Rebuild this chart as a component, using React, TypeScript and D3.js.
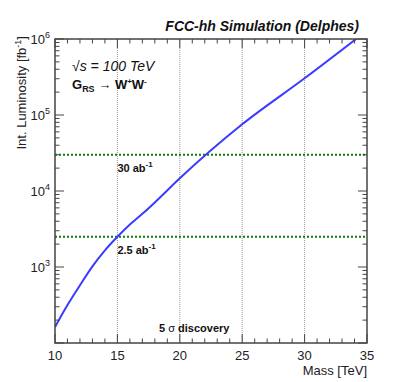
import * as d3 from "d3";

// 数据：质量点与所需积分亮度 (fb^-1)
const masses = [10, 11, 12, 13, 14, 15, 16, 17, 18, 20, 25, 30, 35];
const lumis = [
  162, 316, 575, 1020, 1660, 2500, 3630, 5010, 7080, 14700, 75500, 304000,
  1290000,
];
const xTicks = [10, 15, 20, 25, 30, 35];
const yTicks = [1e3, 1e4, 1e5, 1e6];
const lumiLines = [
  { value: 30000, label: "30 ab", exp: "-1" },
  { value: 2500, label: "2.5 ab", exp: "-1" },
];

const W = 399;
const H = 382;
const margin = { top: 39, right: 32, bottom: 39, left: 55 };
const font = "'Liberation Sans', Arial, Helvetica, sans-serif";

export default function App() {
  const x = d3
    .scaleLinear()
    .domain([10, 35])
    .range([margin.left, W - margin.right]);
  const y = d3
    .scaleLog()
    .domain([100, 1e6])
    .range([H - margin.bottom, margin.top]);

  const x0 = margin.left;
  const x1 = W - margin.right;
  const y0 = H - margin.bottom;
  const y1 = margin.top;

  const line = d3
    .line<number>()
    .x((d, i) => x(masses[i]))
    .y((d) => y(d))
    .curve(d3.curveMonotoneX);

  // 小刻度
  const xMinor = d3.range(10, 35.01, 1);
  const yMinor: number[] = [];
  [100, 1000, 10000, 100000].forEach((p) => {
    for (let k = 2; k <= 9; k++) yMinor.push(p * k);
  });

  const grey = "#444";

  return (
    <svg
      width={W}
      height={H}
      style={{ position: "absolute", left: 0, top: 0, background: "#fff" }}
      fontFamily={font}
    >
      <defs>
        <clipPath id="plot">
          <rect x={x0} y={y1} width={x1 - x0} height={y0 - y1} />
        </clipPath>
      </defs>

      {/* 竖直网格线 */}
      {[15, 20, 25, 30].map((t) => (
        <line
          key={"g" + t}
          x1={x(t)}
          x2={x(t)}
          y1={y0}
          y2={y1}
          stroke="#999"
          strokeWidth={1}
          strokeDasharray="1,1"
        />
      ))}

      {/* 亮度水平线 */}
      {lumiLines.map((l) => (
        <g key={l.label}>
          <line
            x1={x0}
            x2={x1}
            y1={y(l.value)}
            y2={y(l.value)}
            stroke="#0b7d0b"
            strokeWidth={2}
            strokeDasharray="2,2"
          />
          <text
            x={x(15)}
            y={y(l.value) + 17}
            fontSize={11}
            fontWeight="bold"
            fill="#111"
          >
            {l.label}
            <tspan dy={-5} fontSize={8}>
              {l.exp}
            </tspan>
          </text>
        </g>
      ))}

      {/* 曲线 */}
      <path
        d={line(lumis) || ""}
        fill="none"
        stroke="#3b3bff"
        strokeWidth={2}
        clipPath="url(#plot)"
      />

      {/* 框 */}
      <rect
        x={x0}
        y={y1}
        width={x1 - x0}
        height={y0 - y1}
        fill="none"
        stroke={grey}
        strokeWidth={1.5}
      />

      {/* x 刻度 */}
      {xMinor.map((t) => {
        const major = t % 5 === 0;
        const len = major ? 9 : 4.5;
        return (
          <g key={"xt" + t}>
            <line x1={x(t)} x2={x(t)} y1={y0} y2={y0 - len} stroke={grey} />
            <line x1={x(t)} x2={x(t)} y1={y1} y2={y1 + len} stroke={grey} />
          </g>
        );
      })}
      {xTicks.map((t) => (
        <text
          key={"xl" + t}
          x={x(t)}
          y={y0 + 17}
          textAnchor="middle"
          fontSize={13}
          fill="#222"
        >
          {t}
        </text>
      ))}

      {/* y 刻度 */}
      {yTicks.concat([100]).map((t) => (
        <g key={"yt" + t}>
          <line x1={x0} x2={x0 + 9} y1={y(t)} y2={y(t)} stroke={grey} />
          <line x1={x1} x2={x1 - 9} y1={y(t)} y2={y(t)} stroke={grey} />
        </g>
      ))}
      {yMinor.map((t) => (
        <g key={"ym" + t}>
          <line x1={x0} x2={x0 + 4.5} y1={y(t)} y2={y(t)} stroke={grey} />
          <line x1={x1} x2={x1 - 4.5} y1={y(t)} y2={y(t)} stroke={grey} />
        </g>
      ))}
      {yTicks.map((t) => (
        <text
          key={"yl" + t}
          x={x0 - 5}
          y={y(t) + 5}
          textAnchor="end"
          fontSize={13}
          fill="#222"
        >
          10
          <tspan dy={-6} fontSize={9}>
            {Math.round(Math.log10(t))}
          </tspan>
        </text>
      ))}

      {/* 轴标题 */}
      <text x={x1} y={H - 7} textAnchor="end" fontSize={13} fill="#222">
        Mass [TeV]
      </text>
      <text
        transform={`translate(26, ${y1 - 3}) rotate(-90)`}
        textAnchor="end"
        fontSize={13}
        fill="#222"
      >
        Int. Luminosity [fb
        <tspan dy={-5} fontSize={9}>
          -1
        </tspan>
        <tspan dy={5}>]</tspan>
      </text>

      {/* 标注 */}
      <text
        x={x1 - 8}
        y={31}
        textAnchor="end"
        fontSize={14}
        fontWeight="bold"
        fontStyle="italic"
        fill="#111"
      >
        FCC-hh Simulation (Delphes)
      </text>
      <text x={72} y={71} fontSize={14} fontStyle="italic" fill="#111">
        √s = 100 TeV
      </text>
      <text x={72} y={89} fontSize={13} fontWeight="bold" fill="#111">
        G
        <tspan dy={3} fontSize={9}>
          RS
        </tspan>
        <tspan dy={-3} fontWeight="normal">
          {" \u2192 "}
        </tspan>
        W
        <tspan dy={-5} fontSize={8}>
          +
        </tspan>
        <tspan dy={5}>W</tspan>
        <tspan dy={-5} fontSize={8}>
          -
        </tspan>
      </text>
      <text x={159} y={332} fontSize={11} fontWeight="bold" fill="#111">
        5 <tspan fontWeight="normal">σ</tspan> discovery
      </text>
    </svg>
  );
}
